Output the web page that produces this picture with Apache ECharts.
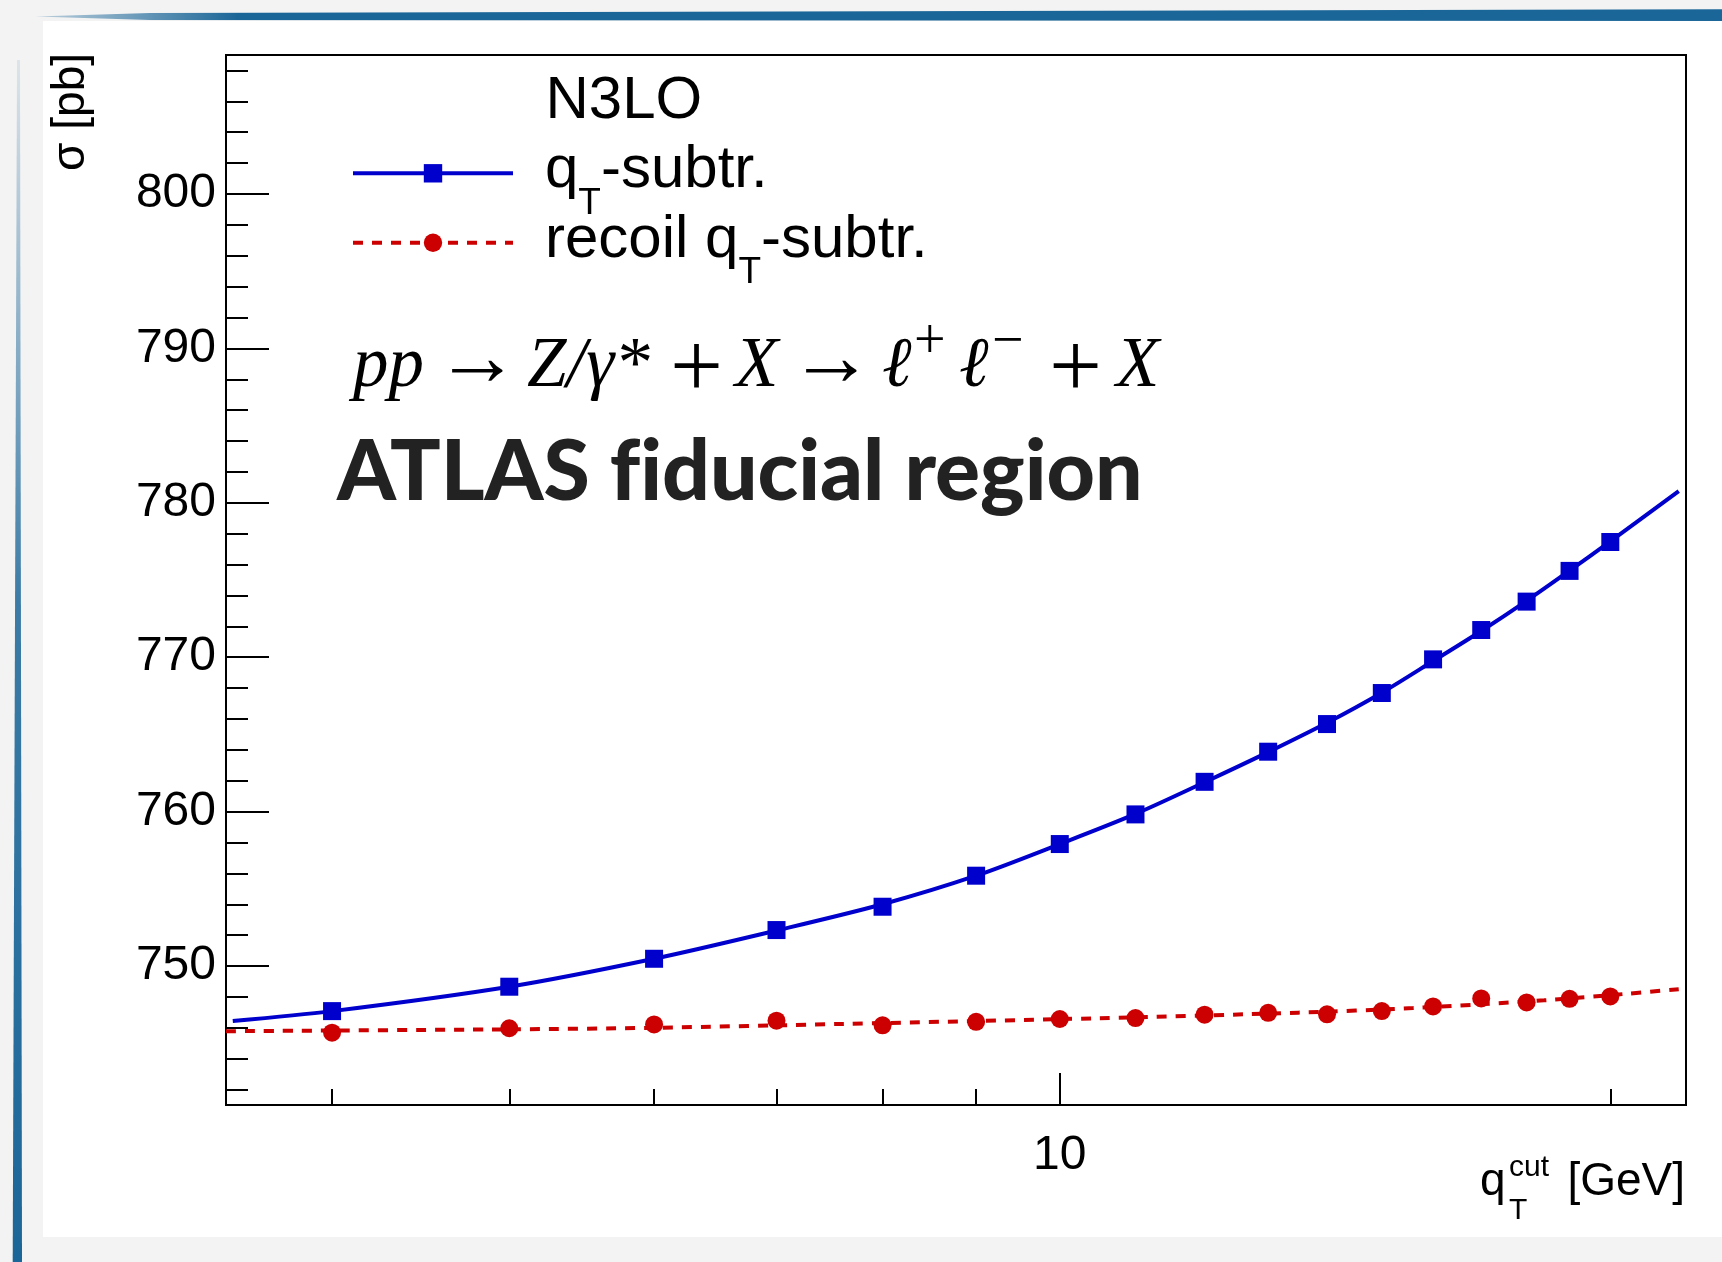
<!DOCTYPE html>
<html><head><meta charset="utf-8">
<script src="https://cdn.jsdelivr.net/npm/echarts@6/dist/echarts.min.js"></script>
<style>html,body{margin:0;padding:0;background:#f3f3f3}#c{width:1722px;height:1262px}</style>
</head><body><div id="c"></div>
<script>
// ---- data ----
const qtCut = [4, 5, 6, 7, 8, 9, 10, 11, 12, 13, 14, 15, 16, 17, 18, 19, 20];
const qtSubtr = [747.08, 748.66, 750.47, 752.33, 753.84, 755.85, 757.9, 759.82, 761.93, 763.88, 765.67, 767.68, 769.86, 771.76, 773.6, 775.59, 777.46];
const recoilQtSubtr = [745.68, 745.97, 746.22, 746.46, 746.16, 746.39, 746.57, 746.63, 746.85, 746.97, 746.87, 747.08, 747.38, 747.9, 747.64, 747.88, 748.03];
// fitted curves
const fitQtX = [3.53, 4, 5, 6, 7, 8, 9, 10, 11, 12, 13, 14, 15, 16, 17, 18, 19, 20, 21.8];
const fitQtY = [746.44, 747.08, 748.66, 750.47, 752.3, 754.0, 755.85, 757.9, 759.85, 761.9, 763.85, 765.75, 767.7, 769.75, 771.7, 773.65, 775.6, 777.5, 780.76];
const fitRecoilX = [3.5, 5, 6, 7.6, 10.5, 13.5, 15.6, 18.4, 20.4, 21.8];
const fitRecoilY = [745.78, 745.9, 746.0, 746.25, 746.62, 746.98, 747.28, 747.78, 748.2, 748.5];
// ticks
const yMajorTicks = [750, 760, 770, 780, 790, 800];
const yMinorTicks = [742, 744, 746, 748, 750, 752, 754, 756, 758, 760, 762, 764, 766, 768, 770, 772, 774, 776, 778, 780, 782, 784, 786, 788, 790, 792, 794, 796, 798, 800, 802, 804, 806, 808];
const xMajorTicks = [10];
const xMinorTicks = [4, 5, 6, 7, 8, 9, 20];
const seriesNames = ['q_T-subtr.', 'recoil q_T-subtr.'];

const BLUE = '#0000cc', RED = '#cc0000';
const SANS = '"Liberation Sans", Arial, Helvetica, sans-serif';
const SERIF = '"Liberation Serif", "Times New Roman", serif';

const pairs = (xs, ys) => xs.map((x, i) => [x, ys[i]]);

const chart = echarts.init(document.getElementById('c'), null, {renderer: 'canvas'});

const baseX = {type: 'log', logBase: 10, min: 3.5, max: 22, gridIndex: 0, position: 'bottom', splitLine: {show: false}};
const baseY = {type: 'value', min: 741, max: 809, gridIndex: 0, position: 'left', splitLine: {show: false}};

function legendFor(name, top, formatter) {
  return {
    data: [name], left: 351, top: top, orient: 'vertical', padding: 0,
    itemWidth: 160, itemHeight: 23, selectedMode: false,
    lineStyle: {width: 4},
    formatter: formatter,
    textStyle: {
      padding: [0, 0, 5, 27],
      rich: {
        m: {fontSize: 60, lineHeight: 60, fontFamily: SANS, color: '#000'},
        s: {fontSize: 37, lineHeight: 37, fontFamily: SANS, color: '#000', padding: [66, 0, 0, 0]}
      }
    }
  };
}

function txt(x, y, text, size, extra, styleExtra) {
  return Object.assign({type: 'text', x: x, y: y, z: 10, silent: true,
    style: Object.assign({text: text, fontSize: size, fontFamily: SERIF, fill: '#000', verticalAlign: 'middle'}, styleExtra || {})}, extra || {});
}
const IT = {fontStyle: 'italic'};

const option = {
  animation: false,
  backgroundColor: '#f3f3f3',
  grid: {left: 226, top: 55, width: 1460, height: 1050, show: true, borderColor: '#000', borderWidth: 2, backgroundColor: 'transparent'},
  xAxis: [
    Object.assign({}, baseX, {
      axisLine: {show: true, lineStyle: {color: '#000', width: 2}},
      axisTick: {show: true, inside: true, length: 16, customValues: xMinorTicks, lineStyle: {color: '#000', width: 2}},
      axisLabel: {show: false}
    }),
    Object.assign({}, baseX, {
      axisLine: {show: false},
      axisTick: {show: true, inside: true, length: 32, customValues: xMajorTicks, lineStyle: {color: '#000', width: 2}},
      axisLabel: {show: true, customValues: xMajorTicks, fontSize: 48, fontFamily: SANS, color: '#000', margin: 27}
    })
  ],
  yAxis: [
    Object.assign({}, baseY, {
      axisLine: {show: true, lineStyle: {color: '#000', width: 2}},
      axisTick: {show: true, inside: true, length: 22, customValues: yMinorTicks, lineStyle: {color: '#000', width: 2}},
      axisLabel: {show: false}
    }),
    Object.assign({}, baseY, {
      axisLine: {show: false},
      axisTick: {show: true, inside: true, length: 43, customValues: yMajorTicks, lineStyle: {color: '#000', width: 2}},
      axisLabel: {show: true, customValues: yMajorTicks, fontSize: 48, fontFamily: SANS, color: '#000', margin: 10, padding: [4, 0, 0, 0]}
    })
  ],
  legend: [
    legendFor(seriesNames[0], 119.3, () => '{m|q}{s|T}{m|-subtr.}'),
    legendFor(seriesNames[1], 188.7, () => '{m|recoil q}{s|T}{m|-subtr.}')
  ],
  series: [
    {
      name: seriesNames[0], type: 'line', xAxisIndex: 0, yAxisIndex: 0,
      data: pairs(fitQtX, fitQtY), smooth: 0.3, showSymbol: false, symbol: 'rect', symbolSize: 18,
      lineStyle: {color: BLUE, width: 4}, itemStyle: {color: BLUE}, z: 3
    },
    {
      name: seriesNames[1], type: 'line', xAxisIndex: 0, yAxisIndex: 0,
      data: pairs(fitRecoilX, fitRecoilY), smooth: 0.3, showSymbol: false, symbol: 'circle', symbolSize: 18,
      lineStyle: {color: RED, width: 4, type: [10, 9]}, itemStyle: {color: RED}, z: 3
    },
    {
      name: 'q_T-subtr. points', type: 'scatter', xAxisIndex: 0, yAxisIndex: 0,
      data: pairs(qtCut, qtSubtr), symbol: 'rect', symbolSize: 18, itemStyle: {color: BLUE, opacity: 1}, z: 4
    },
    {
      name: 'recoil q_T-subtr. points', type: 'scatter', xAxisIndex: 0, yAxisIndex: 0,
      data: pairs(qtCut, recoilQtSubtr), symbol: 'circle', symbolSize: 18, itemStyle: {color: RED, opacity: 1}, z: 4
    }
  ],
  graphic: [
    {type: 'rect', shape: {x: 43, y: 21, width: 1679, height: 1216}, style: {fill: '#ffffff'}, z: -10, silent: true},
    {type: 'polygon', shape: {points: [[35, 16.5], [150, 13], [1722, 9.3], [1722, 21], [150, 20]]},
      style: {fill: new echarts.graphic.LinearGradient(0, 0, 1, 0, [{offset: 0, color: 'rgba(27,102,152,0.25)'}, {offset: 0.12, color: '#1b6698'}, {offset: 1, color: '#1b6698'}])}, z: -9, silent: true},
    {type: 'polygon', shape: {points: [[17, 60], [20, 60], [22, 1262], [12.7, 1262]]},
      style: {fill: new echarts.graphic.LinearGradient(0, 0, 0, 1, [{offset: 0, color: 'rgba(27,102,152,0.1)'}, {offset: 0.45, color: 'rgba(27,102,152,0.85)'}, {offset: 1, color: '#1b6698'}])}, z: -9, silent: true},
    // legend header
    txt(545.5, 101.2, 'N3LO', 60, null, {fontFamily: SANS}),
    // process formula  pp -> Z/gamma* + X -> l+ l- + X
    txt(353, 367.5, 'pp', 71, null, IT),
    txt(435, 363, '→', 85),
    txt(527, 367.5, 'Z/γ*', 71, null, IT),
    txt(670, 372.4, '+', 94),
    txt(735, 367.5, 'X', 71, null, IT),
    txt(789, 363, '→', 85),
    txt(882, 367.5, 'ℓ', 71, null, IT),
    txt(914, 343, '+', 56),
    txt(959, 367.5, 'ℓ', 71, null, IT),
    txt(992, 343, '−', 56),
    txt(1049, 372.4, '+', 94),
    txt(1116, 367.5, 'X', 71, null, IT),
    // ATLAS label
    txt(337, 472.7, 'ATLAS f\u200Ciducial region', 84, null, {fontWeight: 900, fontFamily: 'Lato, "Open Sans", sans-serif', fill: '#222'}),
    // y axis title
    txt(71, 53, 'σ [pb]', 46, {rotation: Math.PI / 2}, {fontFamily: SANS, align: 'right'}),
    // x axis title
    txt(1480, 1182.1, 'q', 46, null, {fontFamily: SANS}),
    txt(1509, 1167.9, 'cut', 30, null, {fontFamily: SANS}),
    txt(1509, 1211.1, 'T', 30, null, {fontFamily: SANS}),
    txt(1685, 1182.1, '[GeV]', 46, null, {fontFamily: SANS, align: 'right'})
  ]
};
chart.setOption(option);
</script>
</body></html>
